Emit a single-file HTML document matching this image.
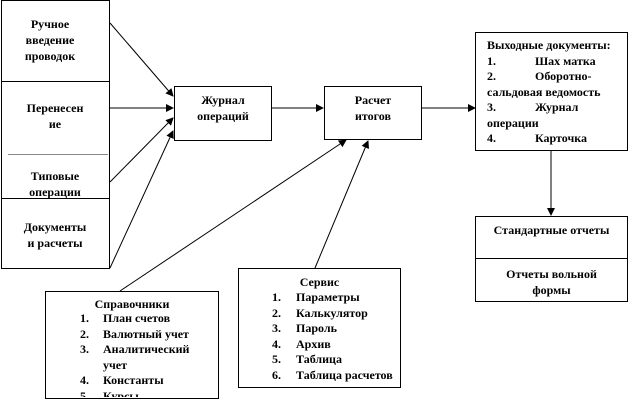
<!DOCTYPE html>
<html><head><meta charset="utf-8"><style>
body{margin:0;width:629px;height:403px;background:#fff;position:relative;overflow:hidden;font-family:"Liberation Serif",serif;font-weight:bold;font-size:12px;color:#000}
.b{position:absolute;border:1px solid #000;box-sizing:border-box;background:#fff}
.t{position:absolute;text-align:center;line-height:16px;white-space:nowrap}
svg{position:absolute;left:0;top:0}
</style></head><body>
<div class="b" style="left:1px;top:0;width:109px;height:269px"></div>
<div style="position:absolute;left:1px;top:81px;width:109px;border-top:1px solid #000"></div>
<div style="position:absolute;left:8px;top:154px;width:100px;border-top:1px solid #888"></div>
<div style="position:absolute;left:1px;top:198px;width:109px;border-top:1px solid #000"></div>
<div class="t" style="left:10px;top:16px;width:80px">Ручное<br>введение<br>проводок</div>
<div class="t" style="left:15px;top:100px;width:80px">Перенесен<br>ие</div>
<div class="t" style="left:15px;top:168px;width:80px">Типовые<br>операции</div>
<div class="t" style="left:15px;top:219px;width:80px">Документы<br>и расчеты</div>
<svg width="629" height="403">
<defs><marker id="a" markerWidth="8" markerHeight="8" refX="7" refY="4" orient="auto" markerUnits="userSpaceOnUse"><path d="M0,0L8,4L0,8z"/></marker></defs>
<g stroke="#000" stroke-width="1" marker-end="url(#a)">
<line x1="110" y1="23" x2="173" y2="96"/>
<line x1="110" y1="108" x2="173" y2="108"/>
<line x1="110" y1="182" x2="173" y2="118"/>
<line x1="110" y1="268" x2="173" y2="131"/>
<line x1="271" y1="108" x2="323" y2="108"/>
<line x1="421" y1="108" x2="475" y2="108"/>
<line x1="120" y1="291" x2="346" y2="140"/>
<line x1="315" y1="268" x2="368" y2="141"/>
<line x1="551" y1="150" x2="551" y2="215"/>
</g></svg>
<div class="b" style="left:174px;top:86px;width:98px;height:55px"></div>
<div class="t" style="left:174px;top:92px;width:98px">Журнал<br>операций</div>
<div class="b" style="left:324px;top:86px;width:98px;height:54px"></div>
<div class="t" style="left:324px;top:92px;width:98px">Расчет<br>итогов</div>
<div class="b" style="left:475px;top:32px;width:153px;height:119px"></div>
<div style="position:absolute;left:487px;top:38px;width:140px;line-height:15.5px;white-space:nowrap">Выходные документы:<br>1.<span style="position:absolute;left:48px">Шах матка</span><br>2.<span style="position:absolute;left:48px">Оборотно-</span><br>сальдовая ведомость<br>3.<span style="position:absolute;left:48px">Журнал</span><br>операции<br>4.<span style="position:absolute;left:48px">Карточка</span></div>
<div class="b" style="left:475px;top:216px;width:153px;height:86px"></div>
<div style="position:absolute;left:475px;top:258px;width:153px;border-top:1px solid #000"></div>
<div class="t" style="left:475px;top:222px;width:153px">Стандартные отчеты</div>
<div class="t" style="left:475px;top:266px;width:153px">Отчеты вольной<br>формы</div>
<div class="b" style="left:45px;top:291px;width:174px;height:108px"></div>
<div class="t" style="left:45px;top:296px;width:174px">Справочники</div>
<div style="position:absolute;left:80px;top:311px;width:135px;line-height:15.5px;height:86px;overflow:hidden;white-space:nowrap">
1.<span style="position:absolute;left:23px">План счетов</span><br>2.<span style="position:absolute;left:23px">Валютный учет</span><br>3.<span style="position:absolute;left:23px">Аналитический</span><br><span style="position:absolute;left:23px">учет</span><br>4.<span style="position:absolute;left:23px">Константы</span><br>5.<span style="position:absolute;left:23px">Курсы</span></div>
<div class="b" style="left:238px;top:268px;width:163px;height:120px"></div>
<div class="t" style="left:238px;top:274px;width:163px">Сервис</div>
<div style="position:absolute;left:272px;top:290px;width:125px;line-height:15.5px;white-space:nowrap">
1.<span style="position:absolute;left:24px">Параметры</span><br>2.<span style="position:absolute;left:24px">Калькулятор</span><br>3.<span style="position:absolute;left:24px">Пароль</span><br>4.<span style="position:absolute;left:24px">Архив</span><br>5.<span style="position:absolute;left:24px">Таблица</span><br>6.<span style="position:absolute;left:24px">Таблица расчетов</span></div>
</body></html>
